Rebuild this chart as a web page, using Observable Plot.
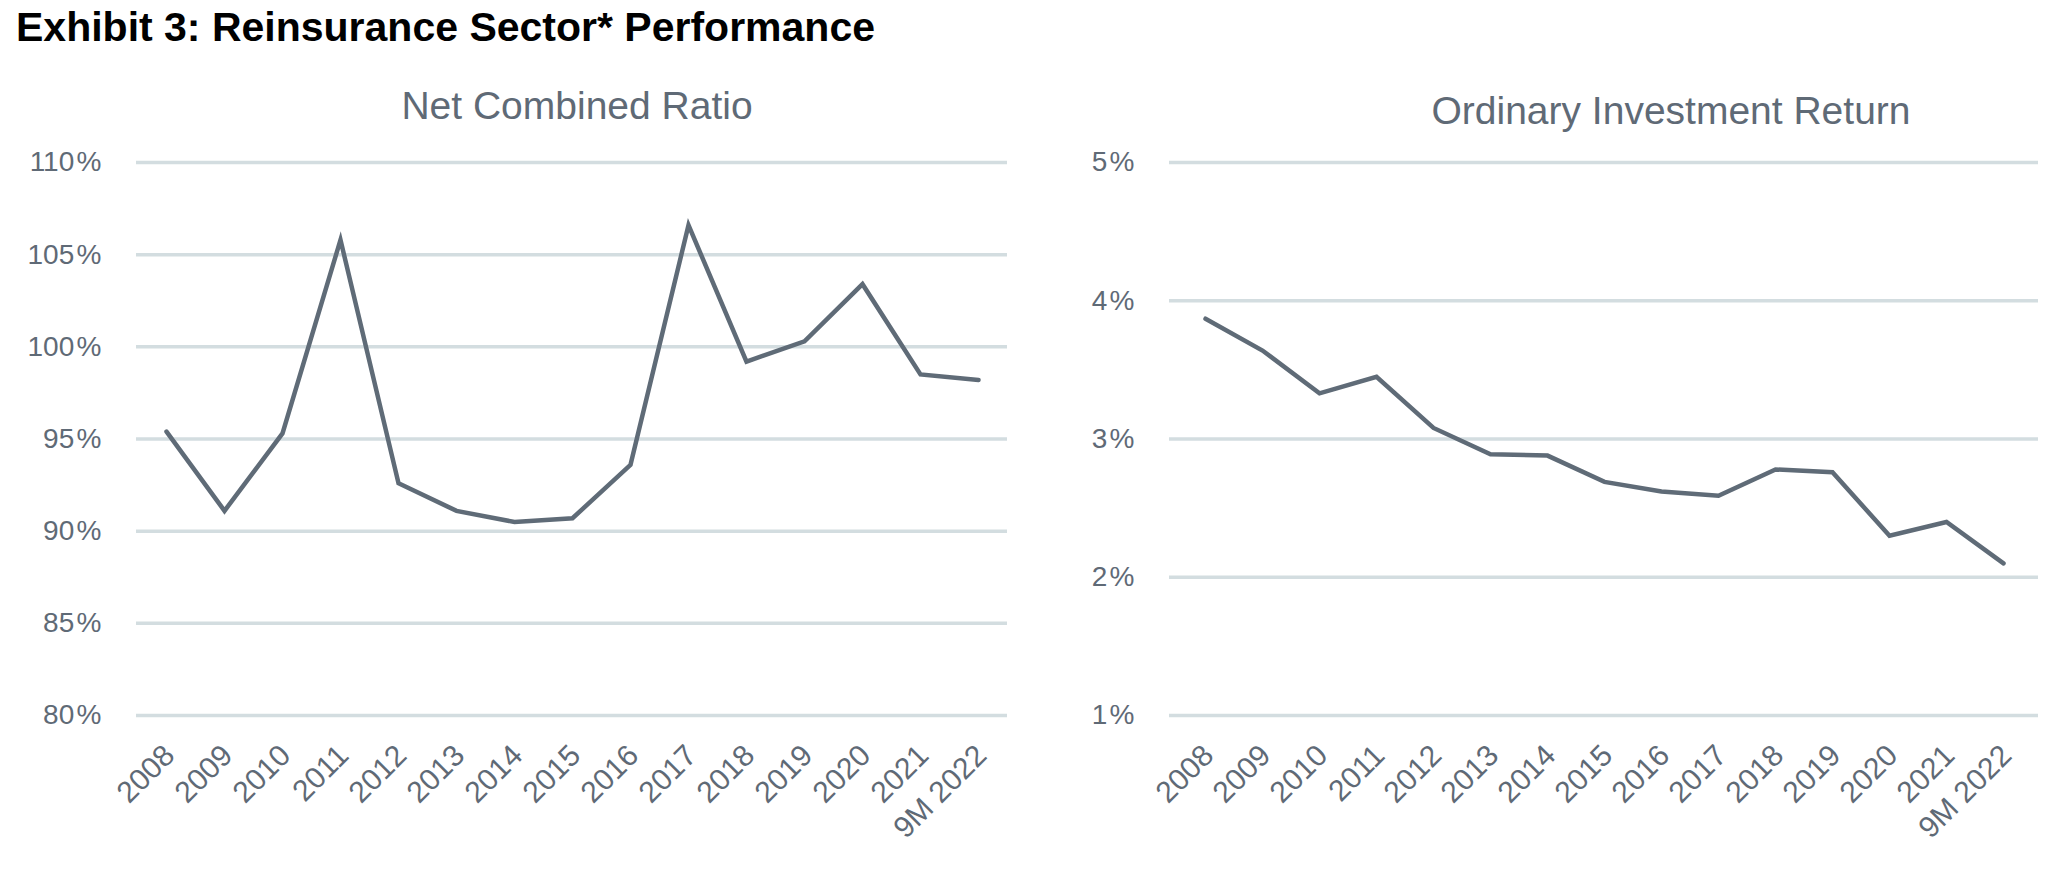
<!DOCTYPE html>
<html>
<head>
<meta charset="utf-8">
<script src="https://cdn.jsdelivr.net/npm/d3@7"></script>
<script src="https://cdn.jsdelivr.net/npm/@observablehq/plot@0.6"></script>
<style>
  html, body { margin: 0; padding: 0; background: #ffffff; }
  body { width: 2064px; height: 870px; position: relative; overflow: hidden; font-family: "Liberation Sans", Arial, sans-serif; }
  #title { position: absolute; left: 16px; top: 7px; font-size: 41px; line-height: 41px; font-weight: bold; color: #000; letter-spacing: 0px; white-space: nowrap; }
  .sub { position: absolute; font-size: 39px; line-height: 39px; color: #5f6a76; white-space: nowrap; transform: translateX(-50%); }
  #sub1 { left: 577px; top: 86px; }
  #sub2 { left: 1671px; top: 91px; }
  #left { position: absolute; left: 0; top: 120px; }
  #right { position: absolute; left: 1032px; top: 120px; }
</style>
</head>
<body>
<div id="title">Exhibit 3: Reinsurance Sector* Performance</div>
<div class="sub" id="sub1">Net Combined Ratio</div>
<div class="sub" id="sub2">Ordinary Investment Return</div>
<div id="left"></div>
<div id="right"></div>
<script>
const years = ["2008", "2009", "2010", "2011", "2012", "2013", "2014", "2015", "2016", "2017", "2018", "2019", "2020", "2021", "9M 2022"];
const combinedRatio = [95.4, 91.1, 95.3, 105.8, 92.6, 91.1, 90.5, 90.7, 93.6, 106.6, 99.2, 100.3, 103.4, 98.5, 98.2];
const investmentReturn = [3.87, 3.64, 3.33, 3.45, 3.08, 2.89, 2.88, 2.69, 2.62, 2.59, 2.78, 2.76, 2.30, 2.40, 2.10];
const ratioTicks = [80, 85, 90, 95, 100, 105, 110];
const returnTicks = [1, 2, 3, 4, 5];

const textColor = "#5f6a76";
const lineColor = "#5f6b77";
const gridColor = "#d3dde0";

function chart(values, ticks, domain, marginLeft, marginRight, yPad) {
  const data = years.map((year, i) => ({year, value: values[i]}));
  return Plot.plot({
    width: 1032,
    height: 750,
    marginLeft,
    marginRight,
    marginTop: 42,
    marginBottom: 155,
    style: {fontFamily: "'Liberation Sans', Arial, sans-serif", color: textColor, background: "transparent", overflow: "visible"},
    x: {type: "point", domain: years, padding: 0.5, label: null},
    y: {domain, label: null},
    marks: [
      Plot.gridY(ticks, {stroke: gridColor, strokeOpacity: 1, strokeWidth: 3.5}),
      Plot.axisY(ticks, {tickSize: 0, tickPadding: yPad, fontSize: 28, tickFormat: d => d + "\u200A%", label: null}),
      Plot.axisX({tickSize: 0, tickRotate: -45, tickPadding: 35, dx: 3, fontSize: 30, label: null}),
      Plot.line(data, {x: "year", y: "value", stroke: lineColor, strokeWidth: 4.5, strokeLinejoin: "miter", strokeMiterlimit: 4})
    ]
  });
}

document.getElementById("left").appendChild(chart(combinedRatio, ratioTicks, [80, 110], 136, 25, 35));
document.getElementById("right").appendChild(chart(investmentReturn, returnTicks, [1, 5], 137, 26, 35));
</script>
</body>
</html>
